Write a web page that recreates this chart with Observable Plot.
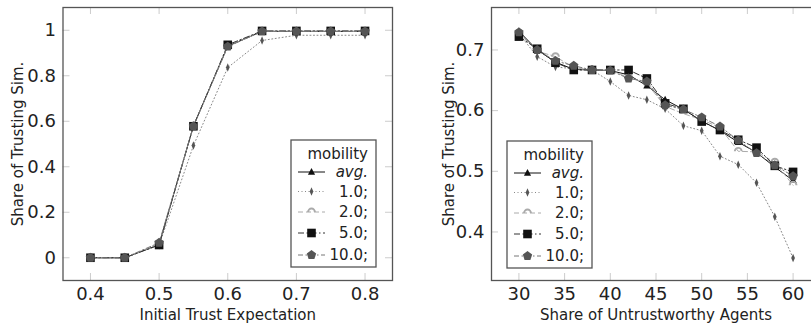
<!DOCTYPE html>
<html><head><meta charset="utf-8">
<script src="https://cdn.jsdelivr.net/npm/d3@7"></script>
<script src="https://cdn.jsdelivr.net/npm/@observablehq/plot@0.6"></script>
<style>
html,body{margin:0;padding:0;background:#fff;overflow:hidden;}
#wrap{position:relative;width:811px;height:324px;overflow:hidden;font-family:"DejaVu Sans",sans-serif;background:#fff;}
#wrap > svg{position:absolute;}
</style></head><body><div id="wrap"></div>
<script>
// ---------- data ----------
const seriesNames = ["avg.", "1.0;", "2.0;", "5.0;", "10.0;"];
const legendTitle = "mobility";

const trustX = [0.4, 0.45, 0.5, 0.55, 0.6, 0.65, 0.7, 0.75, 0.8];
const trustAvg = [0, 0, 0.058, 0.58, 0.93, 0.995, 0.995, 0.995, 0.995];
const trust1 = [0, 0, 0.055, 0.493, 0.836, 0.955, 0.978, 0.978, 0.978];
const trust2 = [0, 0, 0.06, 0.578, 0.93, 0.995, 0.995, 0.995, 0.995];
const trust5 = [0, 0, 0.056, 0.578, 0.936, 0.997, 0.997, 0.997, 0.997];
const trust10 = [0, 0, 0.066, 0.578, 0.928, 0.995, 0.995, 0.995, 0.995];

const untrustX = [30, 32, 34, 36, 38, 40, 42, 44, 46, 48, 50, 52, 54, 56, 58, 60];
const untAvg = [0.731, 0.700, 0.680, 0.668, 0.667, 0.666, 0.659, 0.641, 0.618, 0.602, 0.583, 0.567, 0.548, 0.531, 0.507, 0.485];
const unt1 = [0.727, 0.689, 0.672, 0.669, 0.667, 0.648, 0.625, 0.618, 0.603, 0.575, 0.567, 0.525, 0.511, 0.481, 0.425, 0.357];
const unt2 = [0.728, 0.698, 0.689, 0.671, 0.667, 0.666, 0.655, 0.645, 0.607, 0.595, 0.585, 0.572, 0.533, 0.532, 0.515, 0.477];
const unt5 = [0.722, 0.702, 0.679, 0.667, 0.667, 0.667, 0.667, 0.653, 0.612, 0.603, 0.582, 0.568, 0.552, 0.539, 0.509, 0.499];
const unt10 = [0.729, 0.700, 0.682, 0.674, 0.667, 0.666, 0.653, 0.648, 0.609, 0.602, 0.589, 0.574, 0.551, 0.530, 0.510, 0.492];

const leftXTicks = [0.4, 0.5, 0.6, 0.7, 0.8];
const leftYTicks = [0, 0.2, 0.4, 0.6, 0.8, 1];
const rightXTicks = [30, 35, 40, 45, 50, 55, 60];
const rightYTicks = [0.4, 0.5, 0.6, 0.7];

const leftXLabel = "Initial Trust Expectation";
const rightXLabel = "Share of Untrustworthy Agents";
const yLabel = "Share of Trusting Sim.";

// ---------- symbols ----------
const thinDiamond = {draw(ctx, size){const r=Math.sqrt(size/Math.PI); ctx.moveTo(0,-r*1.25); ctx.lineTo(r*0.55,0); ctx.lineTo(0,r*1.25); ctx.lineTo(-r*0.55,0); ctx.closePath();}};
const halfCircle = {draw(ctx, size){const r=Math.sqrt(size/Math.PI); ctx.moveTo(-r,0); ctx.arc(0,0,r,Math.PI,2*Math.PI); ctx.lineTo(r*0.55,0); ctx.arc(0,0,r*0.55,0,Math.PI,true); ctx.closePath();}};
const pentagon = {draw(ctx, size){const r=Math.sqrt(size/Math.PI)*1.12; for(let k=0;k<5;k++){const a=-Math.PI/2+k*2*Math.PI/5; const x=r*Math.cos(a), y=r*Math.sin(a); if(k===0) ctx.moveTo(x,y); else ctx.lineTo(x,y);} ctx.closePath();}};
const triangleSym = {draw(ctx, size){const r=Math.sqrt(size/Math.PI); ctx.moveTo(0,-r*1.1); ctx.lineTo(r,r*0.75); ctx.lineTo(-r,r*0.75); ctx.closePath();}};
const squareSym = {draw(ctx, size){const r=Math.sqrt(size/Math.PI); ctx.rect(-r,-r,2*r,2*r);}};

const styles = [
  {stroke:"#111", dash:null, fill:"#111", symbol:triangleSym, r:3.6, sw:1},
  {stroke:"#888", dash:"1,2.5", fill:"#555", symbol:thinDiamond, r:3.4, sw:1},
  {stroke:"#aaa", dash:"5,3", fill:"#aaa", symbol:halfCircle, r:4.4, sw:1},
  {stroke:"#333", dash:"6,2.5,1.5,2.5", fill:"#111", symbol:squareSym, r:4.3, sw:1},
  {stroke:"#777", dash:"5,2.5,1.5,2.5", fill:"#555", symbol:pentagon, r:4.4, sw:1}
];

function makeSeries(xs, ys){ return ys.map((vals,i)=>xs.map((x,j)=>({x, y: vals[j], s: seriesNames[i]}))); }

function panel({xs, ys, xDomain, yDomain, xTicks, yTicks, xLabel, width, mLeft, mRight, yFmt, left, yLabelDx}){
  const mTop = 7, mBottom = 44, height = 324;
  const H = height - mTop - mBottom, W = width - mLeft - mRight, tk = 7;
  const series = makeSeries(xs, ys);
  const marks = [
    Plot.ruleX(xTicks, {stroke:"#ccc", insetTop: H - tk}),
    Plot.ruleX(xTicks, {stroke:"#ccc", insetBottom: H - tk}),
    Plot.ruleY(yTicks, {stroke:"#ccc", insetRight: W - tk}),
    Plot.ruleY(yTicks, {stroke:"#ccc", insetLeft: W - tk}),
    Plot.axisX(xTicks, {tickSize:0, tickPadding:7, fontSize:18, fill:"#222", label:null, tickFormat: d=>String(d)}),
    Plot.axisY(yTicks, {tickSize:0, tickPadding:7, fontSize:18, fill:"#222", label:null, tickFormat: yFmt}),
    Plot.text([xLabel], {frameAnchor:"bottom", dy:35, fontSize:15, fill:"#222", lineAnchor:"middle", textAnchor:"middle"}),
    Plot.text([yLabel], {frameAnchor:"left", rotate:-90, dx:yLabelDx, fontSize:15, fill:"#222", lineAnchor:"bottom", textAnchor:"middle"})
  ];
  series.forEach((d,i)=>{
    const st = styles[i];
    marks.push(Plot.line(d, {x:"x", y:"y", stroke:st.stroke, strokeWidth:st.sw, strokeDasharray:st.dash || undefined}));
  });
  series.forEach((d,i)=>{
    const st = styles[i];
    marks.push(Plot.dot(d, {x:"x", y:"y", symbol:st.symbol, r:st.r, fill:st.fill, stroke:"none"}));
  });
  marks.push(Plot.frame({stroke:"#555", strokeWidth:1.3}));
  const svg = Plot.plot({
    width, height, marginTop:mTop, marginBottom:mBottom, marginLeft:mLeft, marginRight:mRight,
    style:{fontFamily:"DejaVu Sans, sans-serif", background:"transparent", overflow:"visible"},
    x:{domain:xDomain, axis:null}, y:{domain:yDomain, axis:null},
    marks
  });
  svg.style.left = left + "px"; svg.style.top = "0px";
  return svg;
}

function legend(left, top){
  const w = 85, h = 127;
  const svg = d3.create("svg").attr("width", w+2).attr("height", h+2)
    .style("position","absolute").style("left",(left-1)+"px").style("top",(top-1)+"px")
    .style("font-family","DejaVu Sans, sans-serif");
  svg.append("rect").attr("x",1).attr("y",1).attr("width",w).attr("height",h).attr("fill","#fff").attr("stroke","#555").attr("stroke-width",1.3);
  svg.append("text").attr("x",78).attr("y",15).attr("dy","0.35em").attr("text-anchor","end").attr("font-size",15).attr("fill","#222").text(legendTitle);
  const rowsY = [33, 52.5, 73, 94, 116];
  seriesNames.forEach((name,i)=>{
    const st = styles[i], y = rowsY[i];
    svg.append("line").attr("x1",8).attr("x2",35).attr("y1",y).attr("y2",y).attr("stroke",st.stroke).attr("stroke-width",st.sw).attr("stroke-dasharray",st.dash);
    svg.append("path").attr("transform",`translate(21.5,${y})`).attr("d", d3.symbol(st.symbol, st.r*st.r*Math.PI)()).attr("fill",st.fill);
    svg.append("text").attr("x",78).attr("y",y).attr("dy","0.35em").attr("text-anchor","end").attr("font-size",15).attr("fill","#222")
      .attr("font-style", i===0 ? "italic" : "normal").text(name);
  });
  return svg.node();
}

const wrap = document.getElementById("wrap");
wrap.appendChild(panel({xs:trustX, ys:[trustAvg,trust1,trust2,trust5,trust10], xDomain:[0.36,0.84], yDomain:[-0.1,1.1],
  xTicks:leftXTicks, yTicks:leftYTicks, xLabel:leftXLabel, width:400, mLeft:62.5, mRight:8, yFmt:d=>String(d), left:0, yLabelDx:-40}));
wrap.appendChild(panel({xs:untrustX, ys:[untAvg,unt1,unt2,unt5,unt10], xDomain:[27,63], yDomain:[0.32,0.77],
  xTicks:rightXTicks, yTicks:rightYTicks, xLabel:rightXLabel, width:430, mLeft:91, mRight:10, yFmt:d=>d.toFixed(1), left:400, yLabelDx:-38}));
wrap.appendChild(legend(291, 140));
wrap.appendChild(legend(507, 141));
</script></body></html>
